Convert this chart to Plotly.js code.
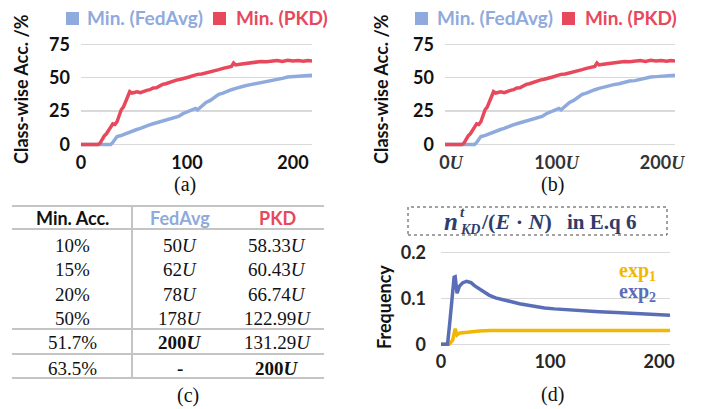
<!DOCTYPE html>
<html><head><meta charset="utf-8">
<script src="https://cdn.plot.ly/plotly-3.0.1.min.js"></script>
<style>html,body{margin:0;padding:0;background:#fff;}#chart{width:707px;height:409px;}</style>
</head><body><div id="chart"></div>
<script>
// ---------- data ----------
const roundsPKD = [0,10,16,18,20,22,24,26,28,30,32,34,36,38,40,42,44,46,48,50,53,56,59,62,65,68,71,74,77,80,83,86,90,94,98,102,106,110,114,118,122,126,130,134,138,142,144,146,150,155,160,165,170,175,180,185,190,195,200,205,210,214,218];
const accPKD = [0,0,0,1,4,6.5,8,11,13,15.5,15,17,22,26,28,32,36,39.5,38.5,38.8,39.5,38.8,40,40.5,41,42.3,42.5,43.8,45,45.5,46.5,47,48.2,48.8,50,50.5,51.5,52.5,52.8,53.5,54.5,55.5,56,57,57.5,58.5,61,59.5,60,60.5,61,61.5,62.2,62,62.5,62.8,62.2,63,62.5,62.8,62.3,62.8,62.5];
const roundsFedAvg = [0,20,28,30,32,34,37,40,44,48,52,56,60,64,68,72,76,80,84,88,92,96,100,104,108,110,114,118,122,126,130,134,138,142,146,150,155,160,165,170,175,180,185,190,195,200,205,210,214,218];
const accFedAvg = [0,0,0,1.5,4,6,6.5,7.5,8.5,9.5,11,12,13.5,14.5,15.5,16.5,17.5,18,19,20,21,23,24.5,25.5,27,26,29,31.5,33,35.5,37.5,38.5,40,41,42,43,44,44.8,45.5,46.5,47.5,47.8,48.8,49.5,50.5,50.8,51,51.3,51.6,51.8];
const accTicks = [0,25,50,75];
const roundTicks = [0,100,200];
const roundTickTextA = ['0','100','200'];
const roundTickNumsB = ['0','100','200'];
const legendNames = ['Min. (FedAvg)','Min. (PKD)'];

const roundsExp2 = [0,6,8,10,12,13,14.7,16.8,20,23.5,27.5,31,35,40,44,50,57,64,72,80,87,95,104,115,130,145,161,176,192,210];
const freqExp2 = [0,0,0.046,0.103,0.146,0.147,0.111,0.126,0.134,0.137,0.134,0.127,0.12,0.113,0.107,0.101,0.097,0.092,0.088,0.085,0.082,0.079,0.077,0.075,0.073,0.071,0.069,0.067,0.066,0.063];
const roundsExp1 = [0,7.5,10.7,12.2,13,14.7,16.8,20,23,30,35,45,57,80,100,130,160,190,210];
const freqExp1 = [0,0,0.009,0.027,0.034,0.02,0.024,0.025,0.026,0.028,0.029,0.03,0.03,0.03,0.03,0.03,0.03,0.03,0.03];
const freqTicks = [0,0.1,0.2];
const freqTickText = ['0','0.1','0.2'];
const expNames = ['exp<sub>1</sub>','exp<sub>2</sub>'];

const tableHeader = ['Min. Acc.','FedAvg','PKD'];
const minAcc = ['10%','15%','20%','50%','51.7%','63.5%'];
const fedAvgRounds = ['50','62','78','178','200','-'];
const pkdRounds = ['58.33','60.43','66.74','122.99','131.29','200'];

const captions = ['(a)','(b)','(c)','(d)'];

// ---------- styling ----------
const W = 707, H = 409;
const px = v => v / W;
const py = v => 1 - v / H;
const BLUE = '#8FAADC', RED = '#E8485C', EXP1 = '#F2B705', EXP2 = '#5A6EB8', NAVY = '#2E3D6B';
const GRID = '#d9d9d9';
const SANS = 'Lato', SERIF = 'Liberation Serif';
const tickSans = {family: SANS, size: 18, weight: 'bold', color: '#111'};
const uSpan = '<span style="font-family:Liberation Serif;font-style:italic;font-weight:bold">U</span>';
const roundTickTextB = roundTickNumsB.map(v => v + uSpan);

const traces = [
  {x: roundsFedAvg, y: accFedAvg, xaxis: 'x', yaxis: 'y', mode: 'lines', line: {color: BLUE, width: 3.5}, name: legendNames[0]},
  {x: roundsPKD, y: accPKD, xaxis: 'x', yaxis: 'y', mode: 'lines', line: {color: RED, width: 3.5}, name: legendNames[1]},
  {x: roundsFedAvg, y: accFedAvg, xaxis: 'x2', yaxis: 'y2', mode: 'lines', line: {color: BLUE, width: 3.5}, name: legendNames[0]},
  {x: roundsPKD, y: accPKD, xaxis: 'x2', yaxis: 'y2', mode: 'lines', line: {color: RED, width: 3.5}, name: legendNames[1]},
  {x: roundsExp1, y: freqExp1, xaxis: 'x3', yaxis: 'y3', mode: 'lines', line: {color: EXP1, width: 3.5}, name: 'exp1'},
  {x: roundsExp2, y: freqExp2, xaxis: 'x3', yaxis: 'y3', mode: 'lines', line: {color: EXP2, width: 3.5}, name: 'exp2'}
];

function xax(d, range, ticktext, font, shift) {
  return {domain: d, range: range, tickmode: 'array', tickvals: roundTicks, ticktext: ticktext,
    showgrid: false, zeroline: false, showline: false, ticks: '', tickfont: font, ticklabelshift: shift || 0, fixedrange: true};
}
function yax(d, range, tickvals, ticktext) {
  return {domain: d, range: range, tickmode: 'array', tickvals: tickvals, ticktext: ticktext,
    showgrid: true, gridcolor: GRID, gridwidth: 1.5, zeroline: false, showline: false, ticks: '',
    tickfont: tickSans, ticklabelstandoff: 10, fixedrange: true};
}

const annotations = [];
const shapes = [];
function ann(text, x, y, font, extra) {
  annotations.push(Object.assign({text: text, x: px(x), y: py(y), xref: 'paper', yref: 'paper',
    showarrow: false, xanchor: 'center', yanchor: 'middle', font: font}, extra || {}));
}
function rect(x0, y0, x1, y1, fill, line) {
  shapes.push({type: 'rect', xref: 'paper', yref: 'paper', x0: px(x0), x1: px(x1), y0: py(y1), y1: py(y0),
    fillcolor: fill, line: line || {width: 0}});
}
function hline(x0, x1, y, color, w) {
  shapes.push({type: 'line', xref: 'paper', yref: 'paper', x0: px(x0), x1: px(x1), y0: py(y), y1: py(y), line: {color: color, width: w}});
}
function vline(x, y0, y1, color, w) {
  shapes.push({type: 'line', xref: 'paper', yref: 'paper', x0: px(x), x1: px(x), y0: py(y0), y1: py(y1), line: {color: color, width: w}});
}

// axis titles
const titleFont = {family: SANS, size: 18, color: '#111'};
ann('<b>Class-wise Acc. /%</b>', 21, 89, titleFont, {textangle: -90});
ann('<b>Class-wise Acc. /%</b>', 381, 89, titleFont, {textangle: -90});
ann('<b>Frequency</b>', 384, 307, {family: SANS, size: 18, color: '#111'}, {textangle: -90});

// top legends
const legFont = c => ({family: SANS, size: 19, color: c});
rect(66, 12, 79, 25, BLUE);
rect(213, 12, 226, 25, RED);
rect(415, 12, 428, 25, BLUE);
rect(562, 12, 575, 25, RED);
ann('<b>' + legendNames[0] + '</b>', 85, 18, legFont(BLUE), {xanchor: 'left'});
ann('<b>' + legendNames[1] + '</b>', 234, 18, legFont(RED), {xanchor: 'left'});
ann('<b>' + legendNames[0] + '</b>', 435, 18, legFont(BLUE), {xanchor: 'left'});
ann('<b>' + legendNames[1] + '</b>', 583, 18, legFont(RED), {xanchor: 'left'});

// captions
const capFont = {family: SERIF, size: 20, color: '#111'};
ann(captions[0], 185, 184, capFont);
ann(captions[1], 552, 184, capFont);
ann(captions[2], 188, 395, capFont);
ann(captions[3], 552, 394, capFont);

// table
const TL = 12, TR = 324, TV = 132, LC = '#c4c4c4';
const colX = [72, 180, 277];
const rowY = [245, 269, 294, 318, 342, 368];
hline(TL, TR, 206, LC, 2);
hline(TL, TR, 229, LC, 2);
hline(TL, TR, 329, LC, 2);
hline(TL, TR, 354, LC, 2);
hline(TL, TR, 378, LC, 2);
vline(TV, 206, 378, LC, 2);
const headColors = ['#111', BLUE, RED];
tableHeader.forEach((h, i) => ann('<b>' + h + '</b>', colX[i], 218, {family: SANS, size: 18, color: headColors[i]}));
const cellFont = {family: SERIF, size: 19, color: '#111'};
const fmtRound = v => {
  if (v === '-') return '<b>-</b>';
  const t = v + '<i>U</i>';
  return v === '200' ? '<b>' + t + '</b>' : t;
};
minAcc.forEach((m, r) => {
  ann(m, colX[0], rowY[r], cellFont);
  ann(fmtRound(fedAvgRounds[r]), colX[1], rowY[r], cellFont);
  ann(fmtRound(pkdRounds[r]), colX[2], rowY[r], cellFont);
});

// formula box for (d)
shapes.push({type: 'rect', xref: 'paper', yref: 'paper', x0: px(408), x1: px(667), y0: py(235), y1: py(207),
  line: {color: '#444', width: 1, dash: 'dot'}});
const fF = s => ({family: SERIF, size: s, color: NAVY});
ann('<b><i>n</i></b>', 451, 222, fF(25));
ann('<b><i>t</i></b>', 462, 212, fF(15));
ann('<b><i>KD</i></b>', 470, 229, fF(14));
ann('<b>/(<i>E</i> · <i>N</i>)</b>', 479, 222, fF(22), {xanchor: 'left'});
ann('<b>in E.q 6</b>', 565, 222, fF(21), {xanchor: 'left'});

// exp labels
ann('<b>' + expNames[0] + '</b>', 617, 271, {family: SERIF, size: 20, color: EXP1}, {xanchor: 'left'});
ann('<b>' + expNames[1] + '</b>', 617, 292, {family: SERIF, size: 20, color: EXP2}, {xanchor: 'left'});

const layout = {
  width: W, height: H, autosize: false, showlegend: false,
  margin: {l: 0, r: 0, t: 0, b: 0, pad: 0},
  paper_bgcolor: '#fff', plot_bgcolor: 'rgba(0,0,0,0)',
  xaxis: Object.assign(xax([px(81), px(312)], [0, 218], roundTickTextA, tickSans), {anchor: 'y'}),
  yaxis: Object.assign(yax([py(149.8), py(40.3)], [-4, 78], accTicks, accTicks.map(String)), {anchor: 'x'}),
  xaxis2: Object.assign(xax([px(445), px(675)], [0, 218], roundTickTextB, Object.assign({}, tickSans, {color: '#333'}), 6), {anchor: 'y2'}),
  yaxis2: Object.assign(yax([py(149.8), py(40.3)], [-4, 78], accTicks, accTicks.map(String)), {anchor: 'x2'}),
  xaxis3: Object.assign(xax([px(441), px(670)], [0, 210], roundTickTextA, Object.assign({}, tickSans, {color: '#262626'})), {anchor: 'y3'}),
  yaxis3: Object.assign(yax([py(348.9), py(247.7)], [-0.01, 0.21], freqTicks, freqTickText), {anchor: 'x3', tickfont: Object.assign({}, tickSans, {color: '#262626'}), ticklabelstandoff: 14}),
  annotations: annotations,
  shapes: shapes
};

Plotly.newPlot('chart', traces, layout, {staticPlot: true, displayModeBar: false});
</script>
</body></html>
